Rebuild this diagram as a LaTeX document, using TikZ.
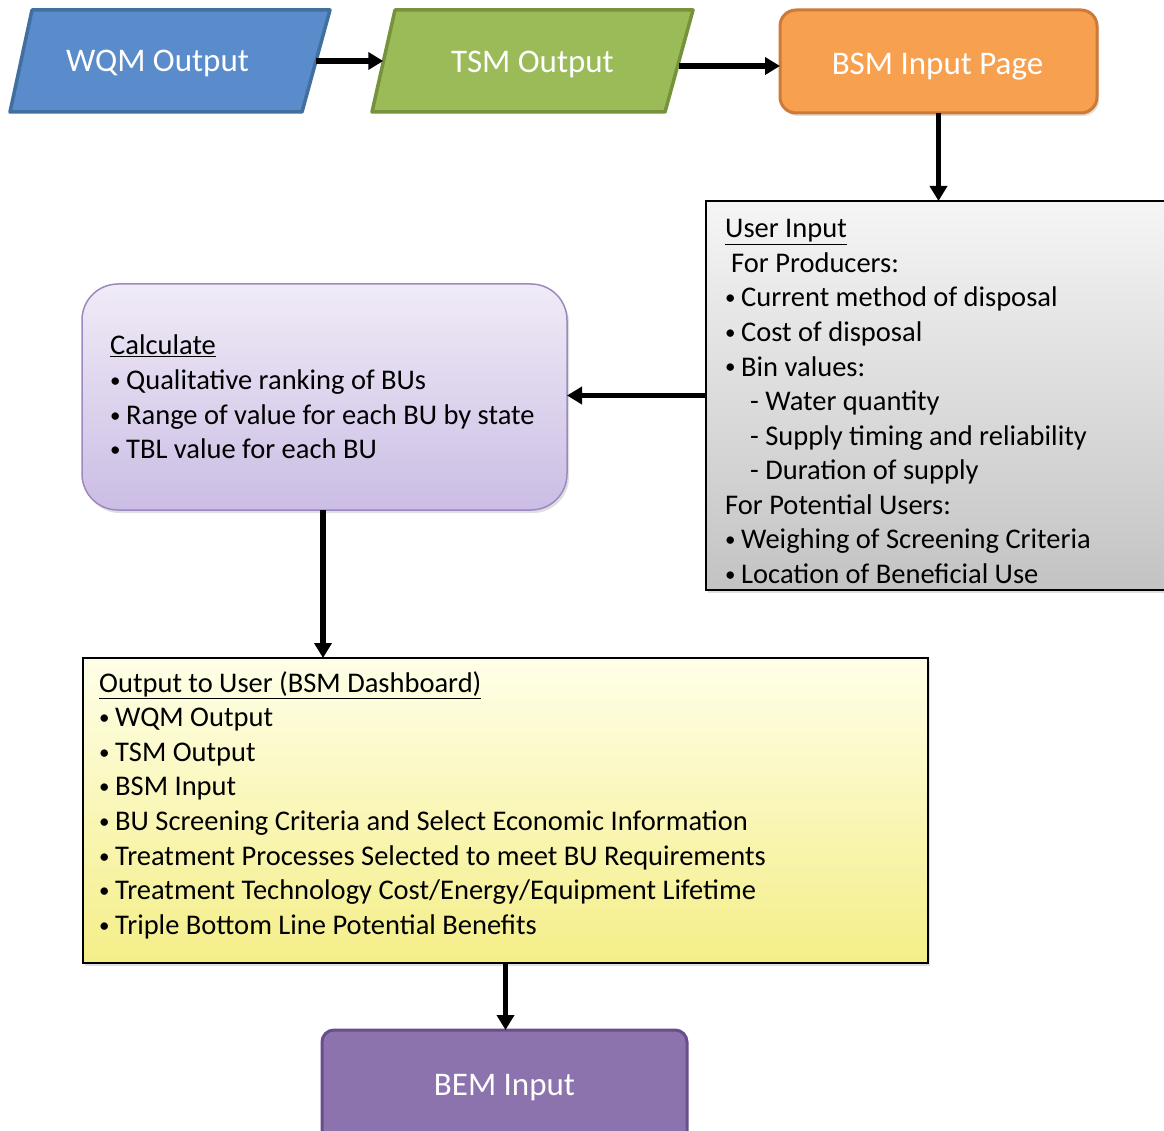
\documentclass[tikz,border=0pt]{standalone}
\usepackage{fontspec}
\setmainfont{Carlito}
\usetikzlibrary{arrows.meta,shadows}
\definecolor{wqmfill}{HTML}{5A8BCA}
\definecolor{wqmdraw}{HTML}{41709F}
\definecolor{tsmfill}{HTML}{9BBB59}
\definecolor{tsmdraw}{HTML}{76933C}
\definecolor{bsmfill}{HTML}{F7A150}
\definecolor{bsmdraw}{HTML}{CC7A36}
\definecolor{bemfill}{HTML}{8C73AE}
\definecolor{bemdraw}{HTML}{684E8C}
\definecolor{calctop}{HTML}{F0EBF7}
\definecolor{calcbot}{HTML}{CBBDE4}
\definecolor{calcdraw}{HTML}{9D89BF}
\definecolor{uitop}{HTML}{F5F5F5}
\definecolor{uibot}{HTML}{C3C3C3}
\definecolor{outtop}{HTML}{FFFFE8}
\definecolor{outbot}{HTML}{F4EE88}
\newcommand\mybul{\makebox[16pt][l]{\raisebox{2pt}{\fontsize{21}{21}\selectfont •}}}
\tikzset{
  arr/.style={line width=5.5pt,-{Triangle[length=15pt,width=17pt]}},
  headtext/.style={text=white,font=\fontsize{33}{40}\selectfont,inner sep=0,outer sep=0,anchor=base},
  boxnode/.style={inner sep=0,outer sep=0},
  txtline/.style={anchor=base west,inner sep=0,font=\fontsize{28.5}{34}\selectfont},
  softshadow/.style={drop shadow={opacity=0.25,shadow xshift=2pt,shadow yshift=-3pt}}
}
\begin{document}
\begin{tikzpicture}[x=1pt,y=-1pt]
\clip (0,0) rectangle (1164,1131);
\fill[white] (0,0) rectangle (1164,1131);
% parallelograms
\draw[fill=wqmfill,draw=wqmdraw,line width=3.5pt,line join=round] (10,112) -- (32,10) -- (330,10) -- (302,112) -- cycle;
\node[boxnode,minimum width=295,minimum height=102] (wqm) at (168.5,61) {};
\node[headtext] (wqmt) at (157.5,72) {WQM Output};
\draw[fill=tsmfill,draw=tsmdraw,line width=3.5pt,line join=round] (372,112) -- (395,10) -- (693,10) -- (665,112) -- cycle;
\node[boxnode,minimum width=295.5,minimum height=102] (tsm) at (531,61) {};
\node[headtext] (tsmt) at (532.5,73) {TSM Output};
% BSM input page
\node[boxnode,fill=bsmfill,draw=bsmdraw,line width=3pt,rounded corners=16pt,minimum width=317,minimum height=103,softshadow] (bsm) at (938.5,61.5) {};
\node[headtext] (bsmt) at (937.5,75) {BSM Input Page};
% User input
\node[boxnode,top color=uitop,bottom color=uibot,draw=black,line width=1.8pt,minimum width=469,minimum height=389,softshadow] (ui) at (940.5,395.5) {};
\foreach \xx/\t [count=\i] in {725/{\underline{User Input}},731/{For Producers:},725/{\mybul Current method of disposal},725/{\mybul Cost of disposal},725/{\mybul Bin values:},750/{- Water quantity},750/{- Supply timing and reliability},750/{- Duration of supply},725/{For Potential Users:},725/{\mybul Weighing of Screening Criteria},725/{\mybul Location of Beneficial Use}}
  \node[txtline] (u\i) at (\xx,{238+(\i-1)*34.5}) {\t};
% Calculate
\node[boxnode,top color=calctop,bottom color=calcbot,draw=calcdraw,line width=1.5pt,rounded corners=36pt,minimum width=485,minimum height=226,softshadow] (calc) at (324.5,397) {};
\foreach \t [count=\i] in {{\underline{Calculate}},{\mybul Qualitative ranking of BUs},{\mybul Range of value for each BU by state},{\mybul TBL value for each BU}}
  \node[txtline] (c\i) at (110,{355+(\i-1)*34.5}) {\t};
% Output
\node[boxnode,top color=outtop,bottom color=outbot,draw=black,line width=1.8pt,minimum width=845,minimum height=305,softshadow] (out) at (505.5,810.5) {};
\foreach \t [count=\i] in {{\underline{Output to User (BSM Dashboard)}},{\mybul WQM Output},{\mybul TSM Output},{\mybul BSM Input},{\mybul BU Screening Criteria and Select Economic Information},{\mybul Treatment Processes Selected to meet BU Requirements},{\mybul Treatment Technology Cost/Energy/Equipment Lifetime},{\mybul Triple Bottom Line Potential Benefits}}
  \node[txtline] (o\i) at (99,{692+(\i-1)*34.6}) {\t};
% BEM input
\node[boxnode,fill=bemfill,draw=bemdraw,line width=3pt,rounded corners=12pt,minimum width=365,minimum height=120] (bem) at (504.5,1090) {};
\node[headtext] (bemt) at (504.5,1095) {BEM Input};
% connectors
\draw[arr] (wqm.east) -- (tsm.west);
\draw[arr] ([yshift=-5pt]tsm.east) -- ([yshift=-5pt]tsm.east -| bsm.west);
\draw[arr] (bsm.south) -- (bsm.south |- ui.north);
\draw[arr] (ui.west) -- (ui.west -| calc.east);
\draw[arr] ([xshift=-1.5pt]calc.south) -- ([xshift=-1.5pt]calc.south |- out.north);
\draw[arr] (out.south) -- (out.south |- bem.north);
\end{tikzpicture}
\end{document}
